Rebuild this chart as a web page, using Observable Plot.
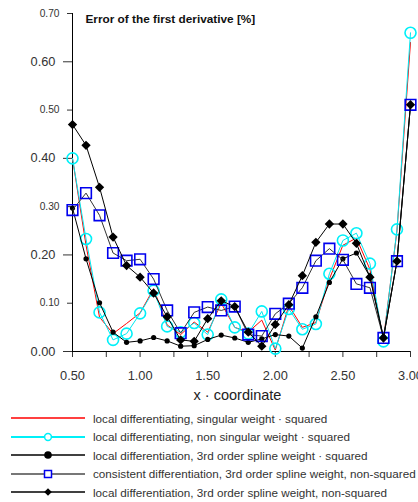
<!DOCTYPE html>
<html><head><meta charset="utf-8">
<script src="https://cdn.jsdelivr.net/npm/d3@7"></script>
<script src="https://cdn.jsdelivr.net/npm/@observablehq/plot@0.6"></script>
<style>
body{margin:0;background:#fff;font-family:"Liberation Sans",Arial,sans-serif;}
#legend{padding-top:5px;}
.row{display:flex;align-items:center;height:18.5px;font-size:11.7px;color:#333;white-space:nowrap;}
.row svg{flex:none;}
</style></head><body>
<div id="chart"></div>
<div id="legend"></div>
<script>
// x positions
const xValues = [0.5,0.6,0.7,0.8,0.9,1.0,1.1,1.2,1.3,1.4,1.5,1.6,1.7,1.8,1.9,2.0,2.1,2.2,2.3,2.4,2.5,2.6,2.7,2.8,2.9,3.0];
// series
const singularSquared = [0.400,0.220,0.071,0.037,0.058,0.080,0.130,0.055,0.035,0.061,0.040,0.100,0.050,0.040,0.065,0.003,0.095,0.050,0.060,0.150,0.220,0.235,0.170,0.025,0.250,0.640];
const nonSingularSquared = [0.400,0.233,0.081,0.024,0.037,0.079,0.126,0.052,0.040,0.059,0.035,0.108,0.050,0.037,0.083,0.006,0.088,0.046,0.057,0.161,0.230,0.245,0.182,0.021,0.253,0.660];
const splineSquared = [0.297,0.192,0.101,0.040,0.019,0.022,0.029,0.022,0.011,0.012,0.025,0.034,0.028,0.019,0.026,0.035,0.032,0.007,0.072,0.143,0.192,0.204,0.155,0.030,0.187,0.511];
const consistentNonSquared = [0.293,0.328,0.282,0.204,0.188,0.191,0.150,0.085,0.038,0.081,0.092,0.085,0.093,0.035,0.032,0.078,0.099,0.132,0.188,0.213,0.190,0.140,0.132,0.028,0.187,0.511];
const splineNonSquared = [0.470,0.427,0.340,0.237,0.178,0.154,0.121,0.072,0.024,0.021,0.068,0.105,0.093,0.040,0.011,0.056,0.097,0.157,0.226,0.264,0.264,0.224,0.154,0.028,0.187,0.511];
// ticks & labels
const yMajorTicks = [0.0,0.2,0.4,0.6];
const yMinorTicks = [0.1,0.3,0.5,0.7];
const xTicks = [0.5,0.75,1.0,1.25,1.5,1.75,2.0,2.25,2.5,2.75,3.0];
const xLabeledTicks = [0.5,1.0,1.5,2.0,2.5,3.0];
const titleText = "Error of the first derivative [%]";
const xLabel = "x · coordinate";
const legendLabels = [
  "local differentiating, singular weight · squared",
  "local differentiating, non singular weight · squared",
  "local differentiation, 3rd order spline weight · squared",
  "consistent differentiation, 3rd order spline weight, non-squared",
  "local differentiation, 3rd order spline weight, non-squared"
];

const pts = arr => xValues.map((x,i)=>({x, y:arr[i]}));
const fmt = d3.format(".2f");

const chart = Plot.plot({
  width:418, height:404,
  marginLeft:72, marginRight:8, marginTop:13, marginBottom:53,
  x:{domain:[0.5,3.0]},
  y:{domain:[0,0.7]},
  style:{fontFamily:"'Liberation Sans', Arial, sans-serif", color:"#333", background:"white"},
  marks:[
    Plot.axisY(yMajorTicks, {tickSize:9, tickPadding:8, fontSize:12.8, tickFormat:fmt, label:null}),
    Plot.axisY(yMinorTicks, {tickSize:5, tickPadding:8, fontSize:10.2, tickFormat:fmt, label:null}),
    Plot.axisX(xTicks, {tickSize:6, tickPadding:13, fontSize:12.8, label:null,
      tickFormat:d => xLabeledTicks.some(v => Math.abs(v-d)<1e-9) ? fmt(d) : ""}),
    Plot.ruleX([0.5], {y1:0, y2:0.7, stroke:"#000"}),
    Plot.ruleY([0], {x1:0.5, x2:3.0, stroke:"#000"}),
    Plot.line(pts(singularSquared), {x:"x", y:"y", stroke:"#ff0000", strokeWidth:1}),
    Plot.line(pts(nonSingularSquared), {x:"x", y:"y", stroke:"#00e8f0", strokeWidth:1}),
    Plot.dot(pts(nonSingularSquared), {x:"x", y:"y", r:5.5, stroke:"#00f0f8", strokeWidth:1.6, fill:"none"}),
    Plot.line(pts(splineSquared), {x:"x", y:"y", stroke:"#000", strokeWidth:1}),
    Plot.dot(pts(splineSquared), {x:"x", y:"y", r:2.6, fill:"#000", stroke:"none"}),
    Plot.line(pts(consistentNonSquared), {x:"x", y:"y", stroke:"#333", strokeWidth:1}),
    Plot.dot(pts(consistentNonSquared), {x:"x", y:"y", symbol:"square", r:6, stroke:"#0000ee", strokeWidth:1.6, fill:"none"}),
    Plot.line(pts(splineNonSquared), {x:"x", y:"y", stroke:"#000", strokeWidth:1}),
    Plot.dot(pts(splineNonSquared), {x:"x", y:"y", symbol:"diamond2", r:4.2, fill:"#000", stroke:"none"}),
    Plot.text([titleText], {frameAnchor:"top-left", lineAnchor:"middle", textAnchor:"start", dx:13, dy:6, fontWeight:"bold", fontSize:11.8, fill:"#111"}),
    Plot.text([xLabel], {frameAnchor:"bottom", lineAnchor:"middle", dx:-4, dy:44, fontSize:14.5, fill:"#222"})
  ]
});
document.getElementById("chart").appendChild(chart);

// legend
const legendStyles = [
  {stroke:"#ff0000", w:1.4, marker:""},
  {stroke:"#00f0f8", w:2, marker:'<circle cx="48" cy="9" r="3.4" fill="#fff" stroke="#00f0f8" stroke-width="1.5"/>'},
  {stroke:"#000", w:1.4, marker:'<circle cx="48" cy="9" r="3.8" fill="#000"/>'},
  {stroke:"#777", w:2, marker:'<rect x="44.5" y="5.5" width="7" height="7" fill="#fff" stroke="#0000ee" stroke-width="1.5"/>'},
  {stroke:"#000", w:1.4, marker:'<path d="M48,5.2L51.8,9L48,12.8L44.2,9Z" fill="#000"/>'}
];
const legend = document.getElementById("legend");
legendLabels.forEach((lab,i)=>{
  const s = legendStyles[i];
  const row = document.createElement("div");
  row.className = "row";
  row.innerHTML = `<svg width="93" height="18"><line x1="11" x2="85" y1="9" y2="9" stroke="${s.stroke}" stroke-width="${s.w}"/>${s.marker}</svg><span></span>`;
  row.querySelector("span").textContent = lab;
  legend.appendChild(row);
});
</script>
</body></html>
